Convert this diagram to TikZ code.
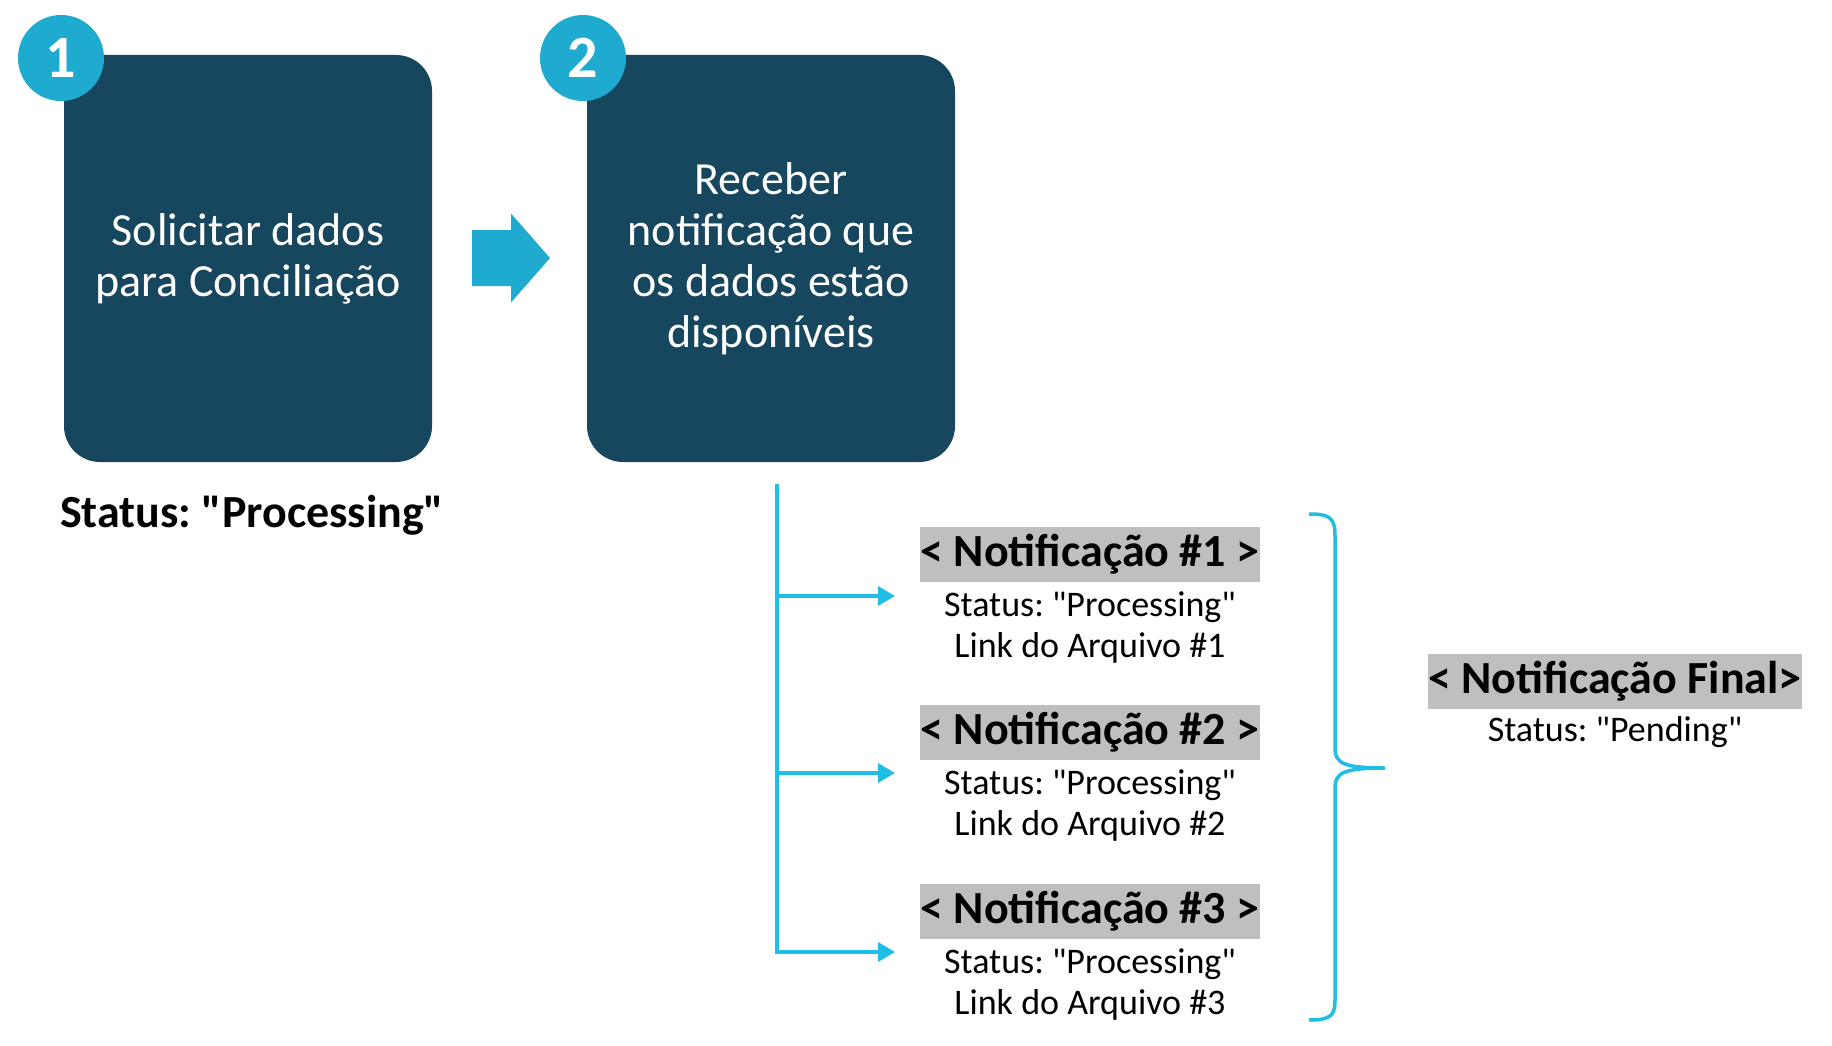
\documentclass[tikz,border=0pt]{standalone}
\usepackage{fontspec}
\setmainfont{Carlito}[Ligatures=TeXOff]
\usepackage{tikz}
\usetikzlibrary{arrows.meta, positioning}
\definecolor{stepnavy}{HTML}{17465F}
\definecolor{stepteal}{HTML}{1FABCF}
\definecolor{linkcyan}{HTML}{20BDE5}
\definecolor{tagbg}{HTML}{BFBFBF}
\newcommand{\dq}{\symbol{34}}
\frenchspacing

\begin{document}
\begin{tikzpicture}[
  x=1pt, y=-1pt,
  stepbox/.style={rectangle, rounded corners=36pt, fill=stepnavy, text=white,
               minimum width=368pt, minimum height=407pt, align=center,
               font=\fontsize{46}{51}\selectfont},
  stepnum/.style={circle, fill=stepteal, text=white, minimum size=86pt, inner sep=0pt,
               font=\fontsize{60}{60}\selectfont\bfseries},
  tag/.style={rectangle, fill=tagbg, inner xsep=0pt, minimum height=55pt,
               font=\fontsize{46}{50}\selectfont\bfseries},
  detail/.style={align=center, inner sep=0pt, font=\fontsize{36}{41}\selectfont},
  branch/.style={-{Triangle[length=17pt, width=19pt]}, line width=3.5pt, linkcyan}
]
\useasboundingbox (0,0) rectangle (1832,1046);

% steps
\node[stepbox] (s1) at (248,258.5) {Solicitar dados\\para Conciliação};
\node[stepbox] (s2) at (771,258.5) {Receber\\notificação que\\os dados estão\\disponíveis};
\node[stepnum] (n1) at (61,58) {1};
\node[stepnum] (n2) at (583,58) {2};
\fill[stepteal] (472,230) -- (511,230) -- (511,213.5) -- (550,258) -- (511,302.5)
  -- (511,286) -- (472,286) -- cycle;
\node[anchor=base west, inner sep=0pt, font=\fontsize{46}{50}\selectfont\bfseries]
  (state1) at (60,527) {Status: \dq Processing\dq};

% notifications
\node[tag, minimum width=340pt] (note1) at (1090,554) {< Notificação \#1 >};
\node[detail, below=10pt of note1] (info1) {Status: \dq Processing\dq\\Link do Arquivo \#1};
\node[tag, minimum width=340pt] (note2) at (1090,732) {< Notificação \#2 >};
\node[detail, below=10pt of note2] (info2) {Status: \dq Processing\dq\\Link do Arquivo \#2};
\node[tag, minimum width=340pt] (note3) at (1090,911) {< Notificação \#3 >};
\node[detail, below=10pt of note3] (info3) {Status: \dq Processing\dq\\Link do Arquivo \#3};

\node[tag, minimum width=373pt] (final) at (1615,681) {< Notificação Final>};
\node[detail, below=8pt of final] (finalinfo) {Status: \dq Pending\dq};

% branches
\coordinate (trunk) at (777,484);
\foreach \i/\y in {1/596, 2/773, 3/952}
  \coordinate (hit\i) at (895,\y);
\draw[branch] (trunk) |- (hit1);
\draw[branch] (trunk) |- (hit2);
\draw[branch] (trunk) |- (hit3);

% brace
\draw[linkcyan, line width=3.5pt]
  (1309,514) .. controls (1330,514) and (1335,518) .. (1335,536)
  -- (1335,748) .. controls (1335,763) and (1343,768) .. (1385,768)
  .. controls (1343,768) and (1335,773) .. (1335,788)
  -- (1335,1000) .. controls (1335,1016) and (1330,1020) .. (1309,1020);
\end{tikzpicture}
\end{document}
